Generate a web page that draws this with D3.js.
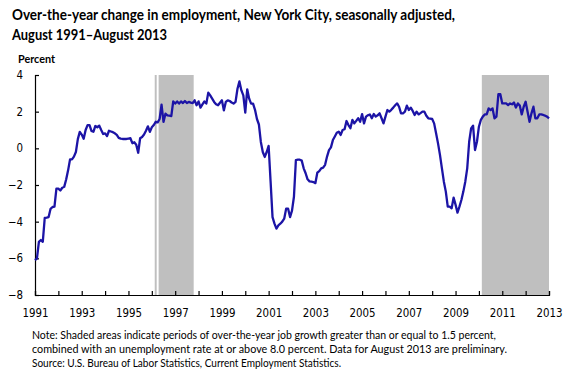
<!DOCTYPE html>
<html><head><meta charset="utf-8">
<script src="https://cdn.jsdelivr.net/npm/d3@7"></script>
<style>
body{margin:0;background:#fff;}
svg{display:block;}
</style></head>
<body><svg id="c" width="580" height="382"></svg>
<script>
// Data: monthly over-the-year % change, starting August 1991
const startYear = 1991, startMonth = 8;
const values = [
-6.1,-6.0,-5.1,-5.0,-5.1,-3.8,-3.78,-3.75,-3.3,-3.2,
-3.18,-2.2,-2.2,-2.3,-2.15,-2.1,-1.7,-1.2,-0.6,-0.6,
-0.45,-0.2,0.5,0.9,0.75,0.52,1.0,1.27,1.27,0.95,
0.9,1.22,1.15,1.24,1.0,0.78,0.82,0.67,0.96,0.92,
0.88,0.82,0.73,0.57,0.53,0.51,0.51,0.51,0.53,0.55,
0.28,0.33,0.2,-0.24,0.55,0.62,0.75,0.96,1.2,0.9,
1.15,1.27,1.45,1.42,1.6,2.38,1.44,1.89,1.8,1.78,
1.76,2.56,2.44,2.56,2.44,2.56,2.47,2.58,2.47,2.53,
2.49,2.47,2.62,2.35,2.56,2.22,2.4,2.56,2.44,3.04,
2.89,2.71,2.53,2.4,2.35,2.49,2.62,2.07,2.53,2.62,
2.58,2.5,2.44,2.53,3.25,3.65,3.16,2.89,1.95,3.22,
2.71,2.44,2.44,2.1,1.6,1.3,0.35,-0.2,-0.47,-0.2,
0.13,-1.8,-3.75,-4.11,-4.38,-4.2,-4.11,-4.0,-3.84,-3.29,
-3.29,-3.75,-3.4,-2.64,-0.64,-0.62,-0.62,-0.67,-1.09,-1.36,
-1.69,-1.8,-1.82,-1.84,-1.9,-1.33,-1.24,-1.09,-1.05,-0.9,
-0.45,-0.1,0.05,0.45,0.65,0.85,0.91,0.73,1.0,1.04,
1.49,1.27,1.1,1.55,1.36,1.5,1.64,1.45,1.87,1.36,
1.73,1.8,1.85,1.64,1.87,1.73,1.8,1.91,1.64,1.36,
1.73,2.09,2.0,2.1,2.22,2.35,2.45,2.27,1.91,1.91,
2.0,2.33,2.09,2.22,2.04,1.82,2.0,1.85,1.92,2.0,
2.0,1.78,1.64,1.62,1.6,1.36,0.82,0.27,-0.36,-1.09,
-1.82,-2.36,-3.18,-3.18,-3.27,-2.69,-3.07,-3.51,-3.18,-2.82,
-2.36,-1.82,-1.09,0.36,1.09,1.24,-0.09,0.36,1.18,1.55,
1.73,1.85,1.85,2.18,2.09,2.18,1.64,1.73,2.95,2.95,
2.45,2.45,2.45,2.36,2.45,2.4,2.5,2.22,2.45,2.33,
1.85,2.27,2.54,2.0,1.45,1.91,2.27,1.64,1.64,1.85,
1.85,1.82,1.78,1.73,1.64
];
const yTicks = [4, 2, 0, -2, -4, -6, -8];
const xTickYears = [1991,1992,1993,1994,1995,1996,1997,1998,1999,2000,2001,2002,2003,2004,2005,2006,2007,2008,2009,2010,2011,2012,2013];
const xLabelYears = [1991,1993,1995,1997,1999,2001,2003,2005,2007,2009,2011,2013];
const shadedStart = ["1996-10","1996-12","2010-10"];
const shadedEnd   = ["1996-10","1998-05","2013-08"];

const titleLines = ["Over-the-year change in employment, New York City, seasonally adjusted,","August 1991\u2013August 2013"];
const noteLines = [
 "Note: Shaded areas indicate periods of over-the-year job growth greater than or equal to 1.5 percent,",
 "combined with an unemployment rate at or above  8.0 percent. Data for August  2013 are preliminary.",
 "Source: U.S. Bureau of Labor Statistics, Current Employment Statistics."
];

const svg = d3.select("#c");
const L = 35, R = 549, T = 75, B = 295;
const monthIdx = s => { const [yy, mm] = s.split("-").map(Number); return (yy - startYear) * 12 + (mm - startMonth); };
const x = d3.scaleLinear().domain([0, values.length - 1]).range([L, R]);
const y = d3.scaleLinear().domain([-8, 4]).range([B, T]);

// shading
svg.append("g").selectAll("rect").data(shadedStart.map((s, k) => [monthIdx(s), monthIdx(shadedEnd[k])]))
 .join("rect")
 .attr("x", d => x(d[0] - 0.5))
 .attr("width", d => Math.min(x(d[1] + 0.5), R) - x(d[0] - 0.5))
 .attr("y", T).attr("height", B - T)
 .attr("fill", "#bfbfbf");

// axes
const tickFont = "'DejaVu Sans Condensed','DejaVu Sans',sans-serif";
const yAxis = svg.append("g").attr("transform", `translate(${L},0)`)
 .call(d3.axisLeft(y).tickValues(yTicks).tickSize(-4).tickPadding(12).tickFormat(d3.format("d")));
const xAxis = svg.append("g").attr("transform", `translate(0,${B})`)
 .call(d3.axisBottom(x).tickValues(xTickYears.map(yy => (yy - startYear) * 12)).tickSize(-4).tickPadding(14)
   .tickFormat(v => { const yy = startYear + v / 12; return xLabelYears.includes(yy) ? String(yy) : ""; }));
[yAxis, xAxis].forEach(g => {
 g.select(".domain").attr("stroke", "#000").attr("stroke-width", 1.2);
 g.selectAll(".tick line").attr("stroke", "#000").attr("stroke-width", 1.2);
 g.selectAll("text").attr("font-family", tickFont).attr("font-size", "11.4px").attr("fill", "#000");
});
xAxis.selectAll("text").attr("dy", "0.35em").attr("y", 18);

// line
svg.append("path").datum(values)
 .attr("fill", "none").attr("stroke", "#1c14a6").attr("stroke-width", 2.3).attr("stroke-linejoin", "round")
 .attr("d", d3.line().x((d, i) => x(i)).y(d => y(d)));

// titles
const tf = "Lato, 'Open Sans', sans-serif";
svg.append("text").attr("x", 12).attr("y", 20).attr("font-family", tf).attr("font-weight", "bold")
 .attr("font-size", "14.5px").attr("textLength", 443).attr("lengthAdjust", "spacingAndGlyphs").text(titleLines[0]);
svg.append("text").attr("x", 12).attr("y", 40).attr("font-family", tf).attr("font-weight", "bold")
 .attr("font-size", "14.5px").attr("textLength", 155).attr("lengthAdjust", "spacingAndGlyphs").text(titleLines[1]);
svg.append("text").attr("x", 18).attr("y", 63).attr("font-family", tf).attr("font-weight", "bold")
 .attr("font-size", "11px").attr("textLength", 37).attr("lengthAdjust", "spacingAndGlyphs").text("Percent");

// notes
const noteLens = [464, 475, 309];
const noteY = [339, 353, 367];
noteLines.forEach((t, k) => {
 svg.append("text").attr("x", 32).attr("y", noteY[k]).attr("font-family", tf).attr("font-size", "11.5px")
  .attr("textLength", noteLens[k]).attr("lengthAdjust", "spacingAndGlyphs").attr("fill", "#000").text(t);
});
</script></body></html>
